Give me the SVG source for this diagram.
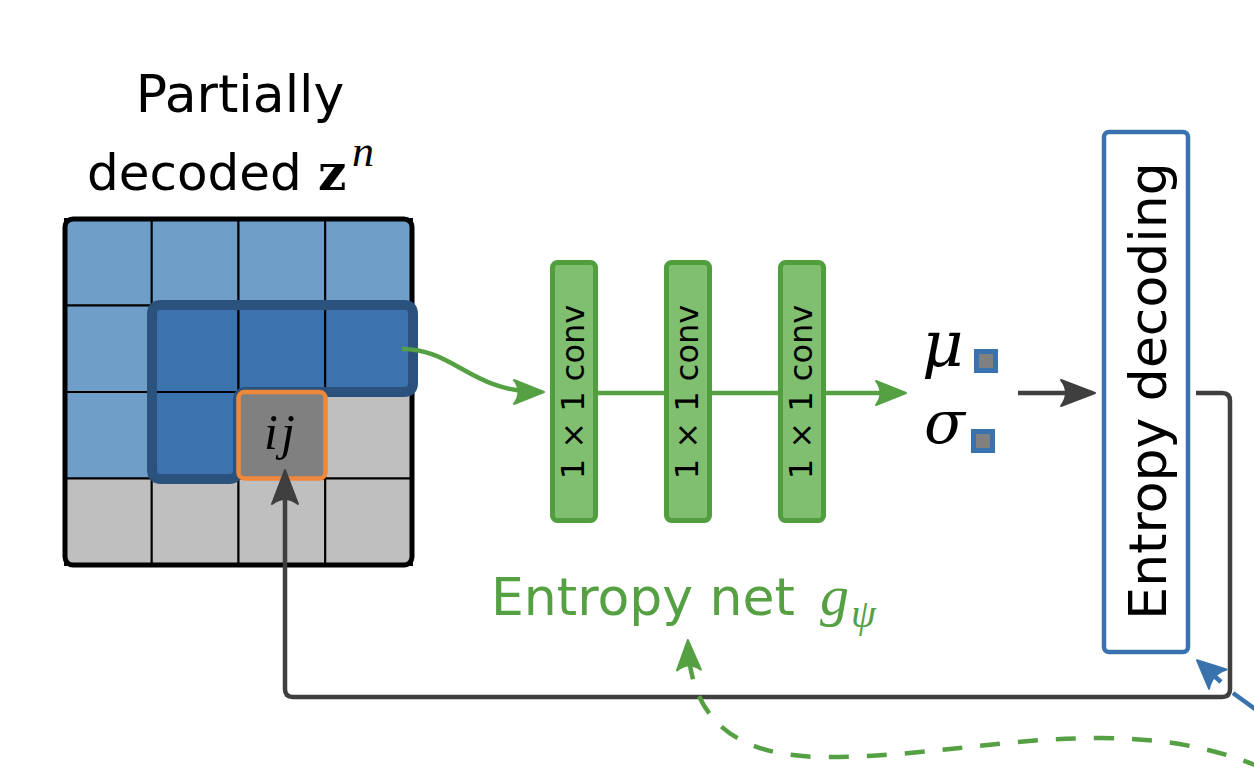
<svg xmlns="http://www.w3.org/2000/svg" width="1254" height="784" viewBox="0 0 1254 784">
<style>
.sans{font-family:"DejaVu Sans",sans-serif;}
.math{font-family:"Liberation Serif",serif;font-style:italic;}
.dmath{font-family:"DejaVu Serif",serif;font-style:italic;}
.lb{fill:#6f9fc8;stroke:#000;stroke-width:2;}
.db{fill:#3b73ae;stroke:#000;stroke-width:2;}
.lg{fill:#bfbfbf;stroke:#000;stroke-width:2;}
.conv{fill:#7fbf6f;stroke:#519e3e;stroke-width:5;}
.convt{font-family:"DejaVu Sans",sans-serif;font-size:32px;fill:#000;}
.g{fill:none;stroke:#55a043;stroke-width:4.5;}
.k{fill:none;stroke:#3f3f3f;stroke-width:4.5;}
.b{fill:none;stroke:#3a72ad;stroke-width:4.5;}
.sq{fill:#808080;stroke:#3a72ad;stroke-width:5;}
</style>
<defs>
<marker id="ag" markerUnits="userSpaceOnUse" orient="auto" viewBox="-34 -16 40 32" markerWidth="40" markerHeight="32" refX="-4" refY="0">
<path d="M0 0 L-30 -12 Q-21 0 -30 12 Z" fill="#55a043" stroke="#55a043" stroke-width="2" stroke-linejoin="round"/>
</marker>
<marker id="ak" markerUnits="userSpaceOnUse" orient="auto" viewBox="-38 -16 44 32" markerWidth="44" markerHeight="32" refX="-4" refY="0">
<path d="M0 0 L-34 -13 Q-24 0 -34 13 Z" fill="#3f3f3f" stroke="#3f3f3f" stroke-width="2" stroke-linejoin="round"/>
</marker>
<marker id="ab" markerUnits="userSpaceOnUse" orient="auto" viewBox="-34 -16 40 32" markerWidth="40" markerHeight="32" refX="-4" refY="0">
<path d="M0 0 L-28 -13 Q-20 0 -28 13 Z" fill="#3a72ad" stroke="#3a72ad" stroke-width="2" stroke-linejoin="round"/>
</marker>
</defs>
<rect width="1254" height="784" fill="#fff"/>

<g id="title">
<text class="sans" x="240" y="112" font-size="52" text-anchor="middle">Partially</text>
<text class="sans" x="87" y="190" font-size="50">decoded</text>
<text x="318" y="190" font-family="DejaVu Serif,serif" font-weight="bold" font-size="50">z</text>
<text class="math" x="352" y="166" font-size="44">n</text>
</g>

<g id="grid">
<rect class="lb" x="65" y="219" width="86.75" height="86.5"/>
<rect class="lb" x="151.75" y="219" width="86.75" height="86.5"/>
<rect class="lb" x="238.5" y="219" width="86.75" height="86.5"/>
<rect class="lb" x="325.25" y="219" width="86.75" height="86.5"/>
<rect class="lb" x="65" y="305.5" width="86.75" height="86.5"/>
<rect class="db" x="151.75" y="305.5" width="86.75" height="86.5"/>
<rect class="db" x="238.5" y="305.5" width="86.75" height="86.5"/>
<rect class="db" x="325.25" y="305.5" width="86.75" height="86.5"/>
<rect class="lb" x="65" y="392" width="86.75" height="86.5"/>
<rect class="db" x="151.75" y="392" width="86.75" height="86.5"/>
<rect class="lg" x="238.5" y="392" width="86.75" height="86.5"/>
<rect class="lg" x="325.25" y="392" width="86.75" height="86.5"/>
<rect class="lg" x="65" y="478.5" width="86.75" height="86.5"/>
<rect class="lg" x="151.75" y="478.5" width="86.75" height="86.5"/>
<rect class="lg" x="238.5" y="478.5" width="86.75" height="86.5"/>
<rect class="lg" x="325.25" y="478.5" width="86.75" height="86.5"/>
<rect x="65" y="219" width="347" height="346" rx="8" fill="none" stroke="#000" stroke-width="5"/>
</g>

<g id="context">
<path d="M161 305 H404 Q413 305 413 314 V383 Q413 392 404 392 H246 Q238 392 238 400 V470 Q238 479 229 479 H161 Q152 479 152 470 V314 Q152 305 161 305 Z" fill="none" stroke="#2a527c" stroke-width="10" stroke-linejoin="round"/>
</g>

<g id="current">
<rect x="238.5" y="392" width="87" height="86.5" rx="6" fill="#808080" stroke="#f0883a" stroke-width="4.5"/>
<text class="math" x="281" y="449" font-size="50" letter-spacing="3" text-anchor="middle">ij</text>
</g>

<g id="conv1">
<rect class="conv" x="552.5" y="262.5" width="43" height="258" rx="5"/>
<text class="convt" transform="translate(584,392) rotate(-90)" text-anchor="middle">1 × 1 conv</text>
</g>
<g id="conv2">
<rect class="conv" x="666.5" y="262.5" width="43" height="258" rx="5"/>
<text class="convt" transform="translate(698,392) rotate(-90)" text-anchor="middle">1 × 1 conv</text>
</g>
<g id="conv3">
<rect class="conv" x="780.5" y="262.5" width="43" height="258" rx="5"/>
<text class="convt" transform="translate(812,392) rotate(-90)" text-anchor="middle">1 × 1 conv</text>
</g>

<g id="entropy-net-label">
<text class="sans" x="491" y="615" font-size="52" fill="#55a043">Entropy net</text>
<text class="math" x="820" y="615" font-size="58" fill="#55a043">g</text>
<text class="math" x="851" y="627" font-size="40" fill="#55a043">ψ</text>
</g>

<g id="params">
<text class="dmath" x="922" y="366" font-size="64">μ</text>
<rect class="sq" x="976.5" y="351.5" width="19" height="19"/>
<text class="dmath" x="924" y="443" font-size="60">σ</text>
<rect class="sq" x="973.5" y="431.5" width="19" height="19"/>
</g>

<g id="entropy-decoding">
<rect x="1104" y="132" width="84" height="520" rx="5" fill="#fff" stroke="#3a72ad" stroke-width="4.5"/>
<text class="sans" transform="translate(1166,391) rotate(-90)" font-size="52" text-anchor="middle">Entropy decoding</text>
</g>

<g id="connectors">
<path class="g" d="M402 349 C455 349 470 392 540 392" marker-end="url(#ag)"/>
<path class="g" d="M598 393 H664 M712 393 H778"/>
<path class="g" d="M826 393 H902" marker-end="url(#ag)"/>
<path class="k" d="M1018 393 H1091" marker-end="url(#ak)"/>
<path class="b" d="M1262 714 L1233 693 M1221 682 L1200 663" marker-end="url(#ab)"/>
<path class="k" d="M1196 393 H1222 Q1230 393 1230 401 V689 Q1230 697 1222 697 H293 Q285 697 285 689 V474" marker-end="url(#ak)"/>
<path class="g" d="M1262 768 C1220 750 1170 738 1100 738 C1000 738 920 758 820 757 C715 755 690 700 688 644" stroke-dasharray="20 18" marker-end="url(#ag)"/>
</g>
</svg>
